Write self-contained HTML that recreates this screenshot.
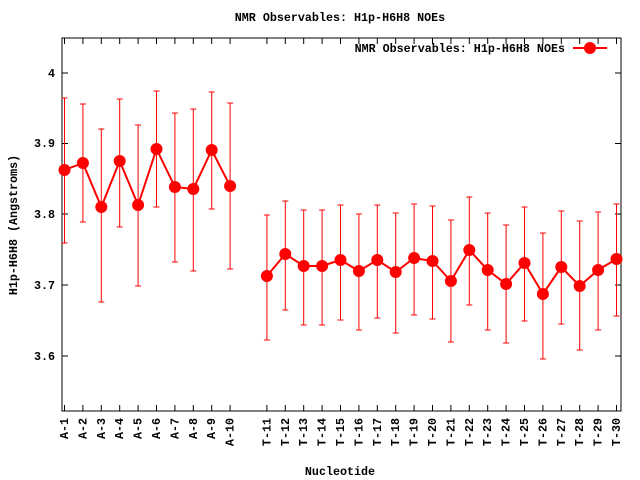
<!DOCTYPE html>
<html><head><style>body{margin:0;background:#fff}svg{display:block}text{font-family:"Liberation Mono",monospace;font-size:11.7px;font-weight:bold;fill:#000}</style></head><body>
<svg width="640" height="480" xmlns="http://www.w3.org/2000/svg">
<rect x="62" y="38" width="559" height="373" fill="none" stroke="#000" stroke-width="1"/>
<text x="340" y="21" text-anchor="middle">NMR Observables: H1p-H6H8 NOEs</text>
<text x="340" y="475" text-anchor="middle">Nucleotide</text>
<text transform="translate(17,225) rotate(-90)" text-anchor="middle">H1p-H6H8 (Angstroms)</text>
<g stroke="#000">
<path d="M62 73h6M621 73h-6M62 143.5h6M621 143.5h-6M62 214h6M621 214h-6M62 285h6M621 285h-6M62 356h6M621 356h-6"/>
<path d="M64.5 411v-6M82.9 411v-6M101.3 411v-6M119.7 411v-6M138.1 411v-6M156.5 411v-6M174.9 411v-6M193.3 411v-6M211.7 411v-6M230.1 411v-6M266.9 411v-6M285.3 411v-6M303.7 411v-6M322.1 411v-6M340.5 411v-6M358.9 411v-6M377.3 411v-6M395.7 411v-6M414.1 411v-6M432.5 411v-6M450.9 411v-6M469.3 411v-6M487.7 411v-6M506.1 411v-6M524.5 411v-6M542.9 411v-6M561.3 411v-6M579.7 411v-6M598.1 411v-6M616.5 411v-6"/>
<path d="M64.5 38v6M82.9 38v6M101.3 38v6M119.7 38v6M138.1 38v6M156.5 38v6M174.9 38v6M193.3 38v6M211.7 38v6M230.1 38v6M266.9 38v6M285.3 38v6M303.7 38v6M322.1 38v6M340.5 38v6M358.9 38v6M377.3 38v6M395.7 38v6M414.1 38v6M432.5 38v6M450.9 38v6M469.3 38v6M487.7 38v6M506.1 38v6M524.5 38v6M542.9 38v6M561.3 38v6M579.7 38v6M598.1 38v6M616.5 38v6"/>
</g>
<g text-anchor="end">
<text x="55" y="77">4</text><text x="55" y="147">3.9</text><text x="55" y="218">3.8</text><text x="55" y="289">3.7</text><text x="55" y="360">3.6</text>
</g>
<g text-anchor="end">
<text transform="translate(68,418) rotate(-90)">A-1</text>
<text transform="translate(86.4,418) rotate(-90)">A-2</text>
<text transform="translate(104.8,418) rotate(-90)">A-3</text>
<text transform="translate(123.2,418) rotate(-90)">A-4</text>
<text transform="translate(141.6,418) rotate(-90)">A-5</text>
<text transform="translate(160,418) rotate(-90)">A-6</text>
<text transform="translate(178.4,418) rotate(-90)">A-7</text>
<text transform="translate(196.8,418) rotate(-90)">A-8</text>
<text transform="translate(215.2,418) rotate(-90)">A-9</text>
<text transform="translate(233.6,418) rotate(-90)">A-10</text>
<text transform="translate(270.4,418) rotate(-90)">T-11</text>
<text transform="translate(288.8,418) rotate(-90)">T-12</text>
<text transform="translate(307.2,418) rotate(-90)">T-13</text>
<text transform="translate(325.6,418) rotate(-90)">T-14</text>
<text transform="translate(344,418) rotate(-90)">T-15</text>
<text transform="translate(362.4,418) rotate(-90)">T-16</text>
<text transform="translate(380.8,418) rotate(-90)">T-17</text>
<text transform="translate(399.2,418) rotate(-90)">T-18</text>
<text transform="translate(417.6,418) rotate(-90)">T-19</text>
<text transform="translate(436,418) rotate(-90)">T-20</text>
<text transform="translate(454.4,418) rotate(-90)">T-21</text>
<text transform="translate(472.8,418) rotate(-90)">T-22</text>
<text transform="translate(491.2,418) rotate(-90)">T-23</text>
<text transform="translate(509.6,418) rotate(-90)">T-24</text>
<text transform="translate(528,418) rotate(-90)">T-25</text>
<text transform="translate(546.4,418) rotate(-90)">T-26</text>
<text transform="translate(564.8,418) rotate(-90)">T-27</text>
<text transform="translate(583.2,418) rotate(-90)">T-28</text>
<text transform="translate(601.6,418) rotate(-90)">T-29</text>
<text transform="translate(620,418) rotate(-90)">T-30</text>
</g>
<g stroke="#f00" stroke-width="1">
<path d="M64.5 98V243M82.9 104V222M101.3 129V302M119.7 99V227M138.1 125V286M156.5 91V207M174.9 113V262M193.3 109V271M211.7 92V209M230.1 103V269M266.9 215V340M285.3 201V310M303.7 210V325M322.1 210V325M340.5 205V320M358.9 214V330M377.3 205V318M395.7 213V333M414.1 204V315M432.5 206V319M450.9 220V342M469.3 197V305M487.7 213V330M506.1 225V343M524.5 207V321M542.9 233V359M561.3 211V324M579.7 221V350M598.1 212V330M616.5 204V316"/>
<path d="M61.5 98h6M61.5 243h6M79.9 104h6M79.9 222h6M98.3 129h6M98.3 302h6M116.7 99h6M116.7 227h6M135.1 125h6M135.1 286h6M153.5 91h6M153.5 207h6M171.9 113h6M171.9 262h6M190.3 109h6M190.3 271h6M208.7 92h6M208.7 209h6M227.1 103h6M227.1 269h6M263.9 215h6M263.9 340h6M282.3 201h6M282.3 310h6M300.7 210h6M300.7 325h6M319.1 210h6M319.1 325h6M337.5 205h6M337.5 320h6M355.9 214h6M355.9 330h6M374.3 205h6M374.3 318h6M392.7 213h6M392.7 333h6M411.1 204h6M411.1 315h6M429.5 206h6M429.5 319h6M447.9 220h6M447.9 342h6M466.3 197h6M466.3 305h6M484.7 213h6M484.7 330h6M503.1 225h6M503.1 343h6M521.5 207h6M521.5 321h6M539.9 233h6M539.9 359h6M558.3 211h6M558.3 324h6M576.7 221h6M576.7 350h6M595.1 212h6M595.1 330h6M613.5 204h6M613.5 316h6"/>
</g>
<g stroke="#f00" stroke-width="2" fill="none">
<polyline points="64.5,170 82.9,163 101.3,207 119.7,161 138.1,205 156.5,149 174.9,187 193.3,189 211.7,150 230.1,186"/>
<polyline points="266.9,276 285.3,254 303.7,266 322.1,266 340.5,260 358.9,271 377.3,260 395.7,272 414.1,258 432.5,261 450.9,281 469.3,250 487.7,270 506.1,284 524.5,263 542.9,294 561.3,267 579.7,286 598.1,270 616.5,259"/>
<path d="M573 48h34"/>
</g>
<g fill="#f00">
<circle cx="64.5" cy="170" r="6"/><circle cx="82.9" cy="163" r="6"/><circle cx="101.3" cy="207" r="6"/><circle cx="119.7" cy="161" r="6"/><circle cx="138.1" cy="205" r="6"/><circle cx="156.5" cy="149" r="6"/><circle cx="174.9" cy="187" r="6"/><circle cx="193.3" cy="189" r="6"/><circle cx="211.7" cy="150" r="6"/><circle cx="230.1" cy="186" r="6"/>
<circle cx="266.9" cy="276" r="6"/><circle cx="285.3" cy="254" r="6"/><circle cx="303.7" cy="266" r="6"/><circle cx="322.1" cy="266" r="6"/><circle cx="340.5" cy="260" r="6"/><circle cx="358.9" cy="271" r="6"/><circle cx="377.3" cy="260" r="6"/><circle cx="395.7" cy="272" r="6"/><circle cx="414.1" cy="258" r="6"/><circle cx="432.5" cy="261" r="6"/><circle cx="450.9" cy="281" r="6"/><circle cx="469.3" cy="250" r="6"/><circle cx="487.7" cy="270" r="6"/><circle cx="506.1" cy="284" r="6"/><circle cx="524.5" cy="263" r="6"/><circle cx="542.9" cy="294" r="6"/><circle cx="561.3" cy="267" r="6"/><circle cx="579.7" cy="286" r="6"/><circle cx="598.1" cy="270" r="6"/><circle cx="616.5" cy="259" r="6"/>
<circle cx="590" cy="48" r="6"/>
</g>
<text x="565" y="52" text-anchor="end">NMR Observables: H1p-H6H8 NOEs</text>
</svg>
</body></html>
